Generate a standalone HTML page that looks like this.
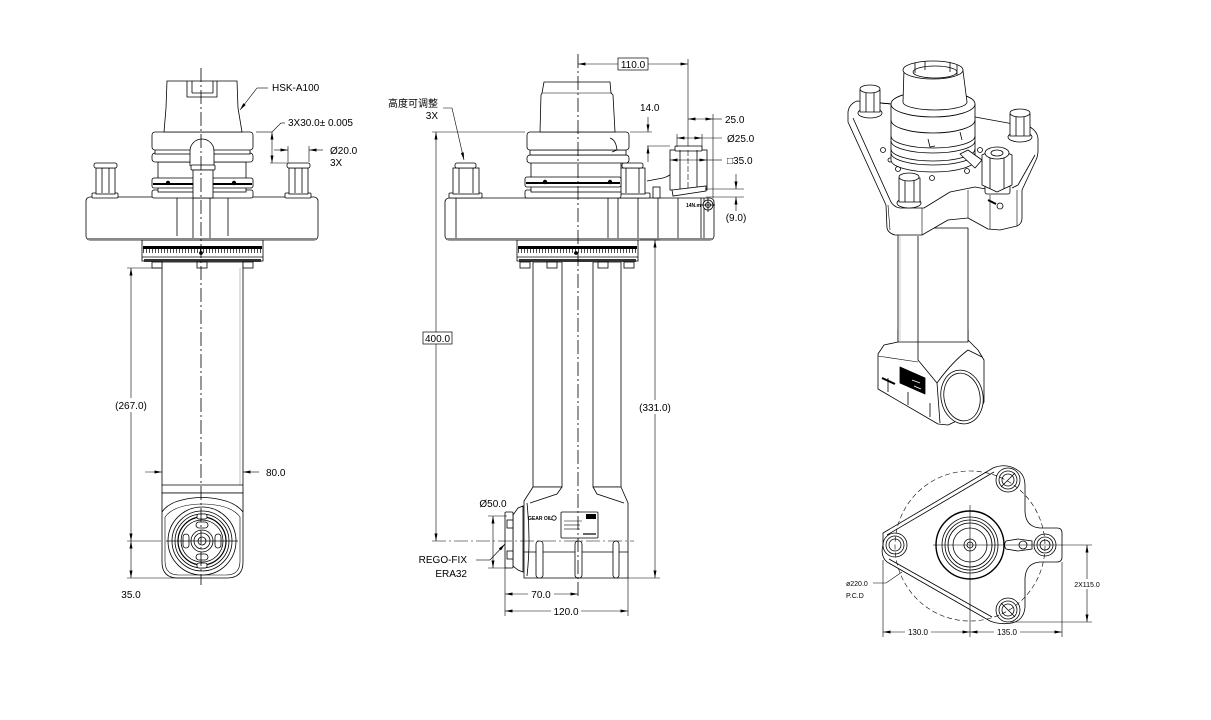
<!DOCTYPE html>
<html><head><meta charset="utf-8"><style>
html,body{margin:0;padding:0;background:#fff;}
svg{display:block;}
text{font-family:"Liberation Sans","Noto Sans CJK SC",sans-serif;font-size:10px;fill:#000;stroke:none;}
</style></head><body>
<svg width="1211" height="720" viewBox="0 0 1211 720" xmlns="http://www.w3.org/2000/svg">
<defs>
<marker id="a" viewBox="0 0 10 4" refX="10" refY="2" markerWidth="8" markerHeight="3" markerUnits="userSpaceOnUse" orient="auto-start-reverse"><path d="M0,0 L10,2 L0,4 Z" fill="#000"/></marker>
</defs>
<rect width="1211" height="720" fill="#fff"/>

<!-- ================= LEFT VIEW ================= -->
<g fill="#fff" stroke="#000" stroke-width="0.8">
  <rect x="162" y="262" width="81" height="231"/>
  <line x1="240" y1="268" x2="240" y2="485" stroke="#999" stroke-width="0.6"/>
  <line x1="162" y1="485" x2="243" y2="485"/>
  <path d="M162,493 H243 V562 Q243,578 227,578 H178 Q162,578 162,562 Z"/>
  <path d="M162,512 Q168,503 182,500 Q202,495 222,500 Q236,503 243,512" fill="none"/>
  <path d="M165,517 Q171,509 184,506 Q202,502 221,506 Q234,509 240,517 V561 Q240,575 226,575 H179 Q165,575 165,561 Z" fill="none" stroke-width="0.6"/>
  <circle cx="202" cy="541" r="34"/>
  <circle cx="202" cy="541" r="30" fill="none"/>
  <circle cx="202" cy="541" r="27" fill="none"/>
  <circle cx="202" cy="541" r="24" fill="none" stroke-width="1.2"/>
  <circle cx="202" cy="541" r="21" fill="none"/>
  <circle cx="202" cy="541" r="11" fill="none"/>
  <circle cx="202" cy="541" r="8" fill="none"/>
  <circle cx="202" cy="541" r="4" fill="none"/>
  <rect x="197" y="514" width="10" height="5" rx="2"/>
  <rect x="196" y="522" width="12" height="6" rx="3"/>
  <rect x="196" y="554" width="12" height="6" rx="3"/>
  <rect x="197" y="563" width="10" height="5" rx="2"/>
  <rect x="183" y="534" width="6" height="14" rx="3"/>
  <rect x="215" y="534" width="6" height="14" rx="3"/>
  <line x1="166" y1="541" x2="238" y2="541"/>
  <rect x="142" y="240" width="121" height="21"/>
  <rect x="143" y="246" width="119" height="3" fill="#000" stroke="none"/>
  <line x1="143" y1="251" x2="262" y2="251" stroke-width="4" stroke-dasharray="0.7 2.3"/>
  <line x1="142" y1="257" x2="263" y2="257"/>
  <rect x="144" y="259" width="117" height="3" fill="#333" stroke="none"/>
  <circle cx="201" cy="253" r="1.5" fill="#000"/>
  <rect x="152" y="262" width="10" height="6"/>
  <rect x="197" y="262" width="10" height="6"/>
  <rect x="243" y="262" width="10" height="6"/>
  <rect x="86" y="197" width="232" height="43" rx="4"/>
  <line x1="88" y1="239" x2="316" y2="239" stroke="#888" stroke-width="2"/>
  <line x1="177" y1="197" x2="177" y2="236"/>
  <line x1="193" y1="197" x2="193" y2="238"/>
  <line x1="210" y1="197" x2="210" y2="238"/>
  <line x1="228" y1="197" x2="228" y2="236"/>
  <rect x="92" y="193" width="26" height="5" rx="1"/>
  <rect x="96" y="168" width="19" height="26"/>
  <rect x="94" y="163" width="23" height="5" rx="2"/>
  <line x1="102" y1="168" x2="102" y2="193"/><line x1="109" y1="168" x2="109" y2="193"/>
  <rect x="285" y="193" width="26" height="5" rx="1"/>
  <rect x="289" y="168" width="19" height="26"/>
  <rect x="287" y="163" width="23" height="5" rx="2"/>
  <line x1="295" y1="168" x2="295" y2="193"/><line x1="302" y1="168" x2="302" y2="193"/>
  <rect x="152" y="190" width="101" height="8" rx="2"/>
  <rect x="158" y="162" width="88" height="30"/>
  <rect x="152" y="178" width="101" height="10" rx="2"/>
  <line x1="153" y1="184" x2="252" y2="184" stroke-width="2"/>
  <circle cx="168" cy="183" r="1.8" fill="#000"/>
  <circle cx="234" cy="183" r="1.8" fill="#000"/>
  <rect x="152" y="153" width="101" height="9" rx="3"/>
  <rect x="155" y="149" width="95" height="5"/>
  <rect x="152" y="132" width="101" height="18" rx="3"/>
  <path d="M167,81 L237,81 L238,108 L242,132 L164,132 L166,108 Z"/>
  <path d="M187,81 V97 H217 V81 M192,81 V93 M213,81 V93 M192,93 H213" fill="none"/>
  <path d="M190,166 V151 A12 12 0 0 1 214,151 V166" />
  <rect x="191" y="165" width="24" height="5" rx="1"/>
  <rect x="193" y="170" width="20" height="28"/>
</g>
<line x1="201" y1="68" x2="201" y2="585" stroke="#000" stroke-width="0.8" stroke-dasharray="14 3 2 3"/>

<g stroke="#000" stroke-width="0.6" fill="none">
  <line x1="127" y1="268" x2="160" y2="268"/>
  <line x1="127" y1="541" x2="161" y2="541"/>
  <line x1="127" y1="578" x2="200" y2="578"/>
  <line x1="131" y1="268" x2="131" y2="541" marker-start="url(#a)" marker-end="url(#a)"/>
  <line x1="131" y1="541" x2="131" y2="578" marker-start="url(#a)" marker-end="url(#a)"/>
  <line x1="145" y1="472" x2="162" y2="472" marker-end="url(#a)"/>
  <line x1="259" y1="472" x2="243" y2="472" marker-end="url(#a)"/>
  <line x1="268" y1="88" x2="257" y2="88"/>
  <line x1="257" y1="88" x2="240" y2="110" marker-end="url(#a)"/>
  <line x1="256" y1="132" x2="272" y2="132"/>
  <line x1="272" y1="132" x2="281" y2="123"/>
  <line x1="281" y1="123" x2="285" y2="123"/>
  <line x1="272" y1="132" x2="272" y2="163" marker-start="url(#a)" marker-end="url(#a)"/>
  <line x1="270" y1="163" x2="290" y2="163"/>
  <line x1="288" y1="146" x2="288" y2="162"/>
  <line x1="309" y1="146" x2="309" y2="162"/>
  <line x1="274" y1="150" x2="288" y2="150" marker-end="url(#a)"/>
  <line x1="323" y1="150" x2="309" y2="150" marker-end="url(#a)"/>
</g>
<rect x="111" y="398" width="40" height="14" fill="#fff"/>
<text x="131" y="409" text-anchor="middle">(267.0)</text>
<text x="131" y="598" text-anchor="middle">35.0</text>
<text x="266" y="476">80.0</text>
<text x="272" y="91">HSK-A100</text>
<text x="288" y="126">3X30.0± 0.005</text>
<text x="330" y="154">Ø20.0</text>
<text x="330" y="166">3X</text>

<!-- ================= MIDDLE VIEW ================= -->
<g fill="#fff" stroke="#000" stroke-width="0.8">
  <rect x="533" y="262" width="29" height="225"/>
  <rect x="593" y="262" width="28" height="225"/>
  <!-- housing fill (no stroke), then outline -->
  <path d="M533,487 L524,501 V578 H628 V503 L621,487 H593 L597,494 L600,500 L555,500 L557,494 L562,487 Z" stroke="none"/>
  <path d="M533,487 L524,501 V578 H628 V503 L621,487" fill="none"/>
  <line x1="533" y1="487" x2="562" y2="487"/>
  <line x1="593" y1="487" x2="621" y2="487"/>
  <path d="M562,487 L557,494 L530,503" fill="none"/>
  <path d="M593,487 L597,494 L624,503" fill="none"/>
  <path d="M527,503 Q531,540 527,576" fill="none"/>
  <line x1="524" y1="552" x2="628" y2="552"/>
  <rect x="536" y="541" width="7" height="37" rx="3"/>
  <rect x="575" y="541" width="7" height="37" rx="3"/>
  <rect x="613" y="541" width="6" height="37" rx="3"/>
  <rect x="561" y="512" width="37" height="26" rx="1"/>
  <rect x="586" y="514" width="10" height="5" fill="#000" stroke="none"/>
  <line x1="564" y1="521" x2="582" y2="521" stroke-width="0.6"/>
  <line x1="564" y1="525" x2="580" y2="525" stroke-width="0.6"/>
  <line x1="564" y1="529" x2="580" y2="529" stroke-width="0.6"/>
  <line x1="583" y1="534" x2="596" y2="534" stroke-width="1.2"/>
  <circle cx="554" cy="518" r="2.2"/>
  <path d="M513,515 L518,508 L523,506 V572 L518,570 L513,566 Z"/>
  <rect x="505" y="512" width="8" height="56" rx="1"/>
  <rect x="507" y="520" width="6" height="8"/>
  <rect x="507" y="551" width="6" height="8"/>
  <rect x="517" y="240" width="121" height="21"/>
  <rect x="518" y="246" width="119" height="3" fill="#000" stroke="none"/>
  <line x1="518" y1="251" x2="637" y2="251" stroke-width="4" stroke-dasharray="0.7 2.3"/>
  <line x1="517" y1="257" x2="638" y2="257"/>
  <rect x="519" y="259" width="117" height="3" fill="#333" stroke="none"/>
  <circle cx="576" cy="253" r="1.5" fill="#000"/>
  <rect x="520" y="262" width="10" height="6"/>
  <rect x="547" y="262" width="10" height="6"/>
  <rect x="598" y="262" width="10" height="6"/>
  <rect x="624" y="262" width="10" height="6"/>
  <rect x="445" y="198" width="269" height="42" rx="4"/>
  <line x1="447" y1="239" x2="712" y2="239" stroke="#888" stroke-width="2"/>
  <line x1="456" y1="198" x2="456" y2="238"/>
  <line x1="608" y1="198" x2="608" y2="238"/>
  <line x1="618" y1="198" x2="618" y2="238"/>
  <line x1="638" y1="198" x2="638" y2="238"/>
  <line x1="658" y1="198" x2="658" y2="238"/>
  <line x1="678" y1="198" x2="678" y2="238"/>
  <line x1="701" y1="198" x2="701" y2="238"/>
  <line x1="704" y1="198" x2="704" y2="238"/>
  <rect x="449" y="193" width="33" height="5" rx="1"/>
  <rect x="453" y="168" width="26" height="26"/>
  <rect x="455" y="163" width="21" height="5" rx="2"/>
  <line x1="459" y1="168" x2="459" y2="193"/><line x1="473" y1="168" x2="473" y2="193"/>
  <rect x="617" y="193" width="33" height="5" rx="1"/>
  <rect x="620" y="168" width="25" height="26"/>
  <rect x="622" y="163" width="21" height="5" rx="2"/>
  <line x1="626" y1="168" x2="626" y2="193"/><line x1="639" y1="168" x2="639" y2="193"/>
  <rect x="525" y="190" width="96" height="8" rx="2"/>
  <rect x="531" y="162" width="90" height="30"/>
  <rect x="525" y="177" width="96" height="10" rx="2"/>
  <line x1="526" y1="183" x2="620" y2="183" stroke-width="2"/>
  <circle cx="545" cy="182" r="1.8" fill="#000"/>
  <circle cx="610" cy="182" r="1.8" fill="#000"/>
  <rect x="527" y="155" width="102" height="8" rx="3"/>
  <rect x="530" y="150" width="96" height="5"/>
  <rect x="527" y="132" width="102" height="18" rx="3"/>
  <path d="M610,138 Q616,140 617,150 L612,152" fill="none"/>
  <path d="M544,82 L610,82 L611,93 L613,95 L615,132 L540,132 L541,95 L542,93 Z"/>
  <line x1="542" y1="93" x2="612" y2="93" stroke-width="0.5"/>
  <path d="M647,181 L663,178 Q670,176 673,172" fill="none"/>
  <rect x="653" y="187" width="7" height="11"/>
  <rect x="670" y="150" width="37" height="40"/>
  <rect x="675" y="146" width="27" height="5" rx="1"/>
  <line x1="680" y1="150" x2="680" y2="190"/>
  <line x1="697" y1="150" x2="697" y2="190"/>
  <path d="M672,190 L706,186 L706,191 L673,196 Z"/>
  <circle cx="708" cy="205" r="5"/>
  <circle cx="708" cy="205" r="2.5" fill="none"/>
  <line x1="701" y1="205" x2="715" y2="205"/>
  <line x1="708" y1="198" x2="708" y2="212"/>
</g>
<line x1="688" y1="150" x2="688" y2="188" stroke="#000" stroke-width="0.6" stroke-dasharray="6 2"/>
<line x1="578" y1="54" x2="578" y2="598" stroke="#000" stroke-width="0.8" stroke-dasharray="14 3 2 3"/>
<line x1="432" y1="541" x2="634" y2="541" stroke="#000" stroke-width="0.6" stroke-dasharray="14 3 2 3"/>

<g stroke="#000" stroke-width="0.6" fill="none">
  <line x1="578" y1="64" x2="688" y2="64" marker-start="url(#a)" marker-end="url(#a)"/>
  <line x1="688" y1="59" x2="688" y2="146"/>
  <line x1="713" y1="114" x2="713" y2="198"/>
  <line x1="688" y1="119" x2="713" y2="119" marker-start="url(#a)" marker-end="url(#a)"/>
  <line x1="713" y1="119" x2="722" y2="119"/>
  <line x1="677" y1="134" x2="677" y2="147"/>
  <line x1="702" y1="134" x2="702" y2="147"/>
  <line x1="677" y1="138" x2="702" y2="138" marker-start="url(#a)" marker-end="url(#a)"/>
  <line x1="702" y1="138" x2="722" y2="138"/>
  <line x1="670" y1="160" x2="707" y2="160" marker-start="url(#a)" marker-end="url(#a)"/>
  <line x1="707" y1="160" x2="722" y2="160"/>
  <line x1="432" y1="132" x2="525" y2="132"/>
  <line x1="630" y1="132" x2="652" y2="132"/>
  <line x1="647" y1="146" x2="670" y2="146"/>
  <line x1="648" y1="117" x2="648" y2="132" marker-end="url(#a)"/>
  <line x1="648" y1="162" x2="648" y2="146" marker-end="url(#a)"/>
  <line x1="705" y1="189" x2="744" y2="189"/>
  <line x1="706" y1="197" x2="744" y2="197"/>
  <line x1="736" y1="174" x2="736" y2="189" marker-end="url(#a)"/>
  <line x1="736" y1="211" x2="736" y2="197" marker-end="url(#a)"/>
  <line x1="436" y1="132" x2="436" y2="541" marker-start="url(#a)" marker-end="url(#a)"/>
  <line x1="640" y1="240" x2="660" y2="240"/>
  <line x1="628" y1="578" x2="660" y2="578"/>
  <line x1="655" y1="240" x2="655" y2="578" marker-start="url(#a)" marker-end="url(#a)"/>
  <line x1="488" y1="516" x2="507" y2="516"/>
  <line x1="488" y1="568" x2="507" y2="568"/>
  <line x1="493" y1="516" x2="493" y2="568" marker-start="url(#a)" marker-end="url(#a)"/>
  <line x1="476" y1="560" x2="490" y2="560"/>
  <line x1="490" y1="560" x2="505" y2="544" marker-end="url(#a)"/>
  <line x1="505" y1="568" x2="505" y2="616"/>
  <line x1="628" y1="578" x2="628" y2="616"/>
  <line x1="505" y1="594" x2="578" y2="594" marker-start="url(#a)" marker-end="url(#a)"/>
  <line x1="505" y1="611" x2="628" y2="611" marker-start="url(#a)" marker-end="url(#a)"/>
  <path d="M443,108 H452 L464,160" marker-end="url(#a)"/>
</g>
<rect x="618" y="58" width="30" height="12" fill="#fff" stroke="#000" stroke-width="0.7"/>
<text x="633" y="68" text-anchor="middle">110.0</text>
<rect x="423" y="332" width="29" height="12" fill="#fff" stroke="#000" stroke-width="0.7"/>
<text x="437.5" y="342" text-anchor="middle">400.0</text>
<rect x="636" y="400" width="38" height="14" fill="#fff"/>
<text x="655" y="411" text-anchor="middle">(331.0)</text>
<text x="640" y="111">14.0</text>
<text x="725" y="123">25.0</text>
<text x="727" y="142">Ø25.0</text>
<text x="727" y="164">□35.0</text>
<text x="736" y="221" text-anchor="middle">(9.0)</text>
<text x="686" y="207" style="font-size:5px;font-weight:bold">14N.m</text>
<text x="438" y="107" text-anchor="end">高度可调整</text>
<text x="438" y="119" text-anchor="end">3X</text>
<text x="493" y="507" text-anchor="middle">Ø50.0</text>
<text x="467" y="563" text-anchor="end">REGO-FIX</text>
<text x="467" y="577" text-anchor="end">ERA32</text>
<text x="528" y="520" style="font-size:5px;font-weight:bold">GEAR OIL</text>
<rect x="528" y="588" width="26" height="12" fill="#fff"/>
<text x="541" y="598" text-anchor="middle">70.0</text>
<rect x="551" y="605" width="30" height="12" fill="#fff"/>
<text x="566" y="615" text-anchor="middle">120.0</text>

<!-- ================= ISOMETRIC VIEW ================= -->
<g fill="#fff" stroke="#000" stroke-width="0.8" stroke-linejoin="round">
  <path d="M898,330 L898,342 L884,345 L878,354 L878,389 L938,424 L948,425 L980,410 L984,402 L984,360 L978,350 L968,340 L968,330 Z"/>
  <path d="M918,330 V360 L937,383 L940,423" fill="none"/>
  <path d="M937,383 Q952,362 968,350 L982,357" fill="none"/>
  <path d="M878,356 L918,362" fill="none" stroke-width="0.6"/>
  <ellipse cx="962" cy="397" rx="21" ry="27" transform="rotate(-10 962 397)"/>
  <ellipse cx="962" cy="397" rx="18" ry="24" transform="rotate(-10 962 397)" fill="none"/>
  <path d="M900,367 L925,378 L925,394 L900,383 Z" fill="#000"/>
  <path d="M912,380 L920,383 M914,386 L921,389" stroke="#fff" stroke-width="0.8"/>
  <path d="M882,378 L895,384" stroke-width="2"/>
  <path d="M888,378 V392 M908,392 V405 M930,403 V417" fill="none"/>
  <rect x="898" y="228" width="70" height="114"/>
  <line x1="918" y1="236" x2="918" y2="342"/>
  <line x1="900" y1="236" x2="900" y2="342" stroke="#aaa" stroke-width="0.6"/>
  <path d="M857,101 Q849,104 848,112 L848,122 L886,205 L887,228 Q888,233 895,235 L922,235 L948,220 L968,218 L988,229 L1000,230 L1017,226 Q1022,224 1022,218 L1022,190 L1036,160 Q1038,156 1038,150 L1038,138 Q1037,131 1030,127 L975,117 L892,104 Z"/>
  <path d="M853,118 L890,200 Q893,207 900,208 L924,208 L950,192 L975,187 L986,189" fill="none"/>
  <path d="M1012,188 L1018,185 L1035,155" fill="none"/>
  <path d="M888,205 L890,230 M922,208 L922,235 M968,190 L968,218 M990,195 L990,229 M1017,190 L1017,226" fill="none" stroke-width="0.6"/>
  <path d="M880,103 L892,104" fill="none"/>
  <circle cx="883" cy="150" r="2.5"/>
  <circle cx="898" cy="169" r="2.5"/>
  <circle cx="932" cy="178" r="2.5"/>
  <circle cx="967" cy="171" r="2.5"/>
  <circle cx="980" cy="150" r="2.5"/>
  <circle cx="890" cy="160" r="2"/>
  <path d="M891,120 L891,160 A42 12 0 0 0 975,160 L975,120 Z"/>
  <path d="M891,136 A42 12 0 0 0 975,136 M891,141 A42 12 0 0 0 975,141 M891,149 A42 12 0 0 0 975,149 M891,153 A42 12 0 0 0 975,153" fill="none"/>
  <path d="M891,104 L891,120 A42 13 0 0 0 975,120 L975,104" />
  <ellipse cx="933" cy="104" rx="42" ry="13"/>
  <path d="M903,102 L904,69 L963,71 L967,102 A32 8 0 0 1 903,102 Z"/>
  <ellipse cx="933" cy="70" rx="30" ry="9"/>
  <ellipse cx="935" cy="72" rx="22" ry="6" fill="none"/>
  <path d="M915,63 V73 M925,61 V70 M950,62 V72 M957,65 V75" fill="none"/>
  <path d="M928,139 L930,147 L935,146 M960,132 L962,140" fill="none"/>
  <ellipse cx="870" cy="113" rx="12" ry="5"/>
  <rect x="860" y="90" width="20" height="22"/>
  <line x1="866" y1="90" x2="866" y2="112"/><line x1="874" y1="90" x2="874" y2="112"/>
  <ellipse cx="870" cy="89" rx="10" ry="4"/>
  <ellipse cx="1020" cy="137" rx="12" ry="5"/>
  <rect x="1010" y="114" width="20" height="22"/>
  <line x1="1016" y1="114" x2="1016" y2="136"/><line x1="1024" y1="114" x2="1024" y2="136"/>
  <ellipse cx="1020" cy="113" rx="10" ry="4"/>
  <ellipse cx="909" cy="203" rx="12" ry="5"/>
  <rect x="899" y="178" width="21" height="24"/>
  <line x1="905" y1="178" x2="905" y2="202"/><line x1="914" y1="178" x2="914" y2="202"/>
  <ellipse cx="909" cy="177" rx="10" ry="4"/>
  <path d="M982,160 L968,150 L960,154 L975,168 Z"/>
  <rect x="985" y="184" width="25" height="10" rx="2"/>
  <path d="M982,155 L997,148 L1012,155 L1012,185 L997,192 L982,185 Z"/>
  <line x1="990" y1="152" x2="990" y2="189"/><line x1="1004" y1="152" x2="1004" y2="189"/>
  <ellipse cx="997" cy="153" rx="12" ry="6"/>
  <ellipse cx="997" cy="153" rx="6" ry="3" fill="none"/>
  <circle cx="1000" cy="206" r="3"/>
  <path d="M988,200 L996,204" stroke-width="2"/>
</g>

<!-- ================= TOP VIEW ================= -->
<circle cx="970" cy="546" r="75" fill="none" stroke="#000" stroke-width="0.6" stroke-dasharray="5 3"/>
<g fill="none" stroke="#000" stroke-width="0.8">
  <path d="M883,533 L993,468 Q1008,462 1020,472 Q1025,477 1025,485 L1025,512 Q1026,527 1040,528 L1057,528 Q1062,528 1062,533 L1062,557 Q1062,562 1057,562 L1040,562 Q1026,563 1025,578 L1025,607 Q1024,620 1012,623 Q1000,625 990,621 L887,562 Q880,556 883,545 Z"/>
  <path d="M887,535 L994,472 M889,559 L992,617"/>
  <circle cx="1008" cy="480" r="12"/><circle cx="1008" cy="480" r="9"/><circle cx="1008" cy="480" r="6"/>
  <line x1="1001" y1="487" x2="1015" y2="473"/>
  <circle cx="895" cy="545" r="12"/><circle cx="895" cy="545" r="9"/><circle cx="895" cy="545" r="6"/>
  <circle cx="1008" cy="610" r="12"/><circle cx="1008" cy="610" r="9"/><circle cx="1008" cy="610" r="6"/>
  <line x1="1001" y1="603" x2="1015" y2="617"/>
  <circle cx="970" cy="545" r="34" stroke-width="1.4"/>
  <circle cx="970" cy="545" r="28"/>
  <circle cx="970" cy="545" r="25"/>
  <circle cx="970" cy="545" r="22"/>
  <circle cx="970" cy="545" r="17"/>
  <circle cx="970" cy="545" r="6"/>
  <circle cx="970" cy="545" r="3"/>
  <path d="M1006,541 L1018,539 L1032,541 L1032,549 L1018,551 L1006,549 Q1003,545 1006,541 Z"/>
  <circle cx="1023" cy="545" r="4"/>
  <circle cx="1045" cy="545" r="11"/><circle cx="1045" cy="545" r="8"/><circle cx="1045" cy="545" r="5"/>
  <line x1="933" y1="545" x2="1092" y2="545" stroke-width="0.6"/>
  <line x1="970" y1="505" x2="970" y2="637" stroke-width="0.6"/>
  <line x1="883" y1="560" x2="883" y2="637" stroke-width="0.6"/>
  <line x1="1062" y1="562" x2="1062" y2="637" stroke-width="0.6"/>
  <line x1="1010" y1="622" x2="1092" y2="622" stroke-width="0.6"/>
  <line x1="883" y1="632" x2="970" y2="632" stroke-width="0.6" marker-start="url(#a)" marker-end="url(#a)"/>
  <line x1="970" y1="632" x2="1062" y2="632" stroke-width="0.6" marker-start="url(#a)" marker-end="url(#a)"/>
  <line x1="1087" y1="545" x2="1087" y2="622" stroke-width="0.6" marker-start="url(#a)" marker-end="url(#a)"/>
  <path d="M873,583 H886 L902,572" stroke-width="0.6"/>
</g>
<rect x="905" y="627" width="26" height="10" fill="#fff"/>
<text x="918" y="635" text-anchor="middle" style="font-size:8px">130.0</text>
<rect x="994" y="627" width="26" height="10" fill="#fff"/>
<text x="1007" y="635" text-anchor="middle" style="font-size:8px">135.0</text>
<rect x="1071" y="579" width="32" height="10" fill="#fff"/>
<text x="1087" y="587" text-anchor="middle" style="font-size:7px">2X115.0</text>
<text x="846" y="586" style="font-size:7px">ø220.0</text>
<text x="846" y="598" style="font-size:7px">P.C.D</text>
</svg>
</body></html>
